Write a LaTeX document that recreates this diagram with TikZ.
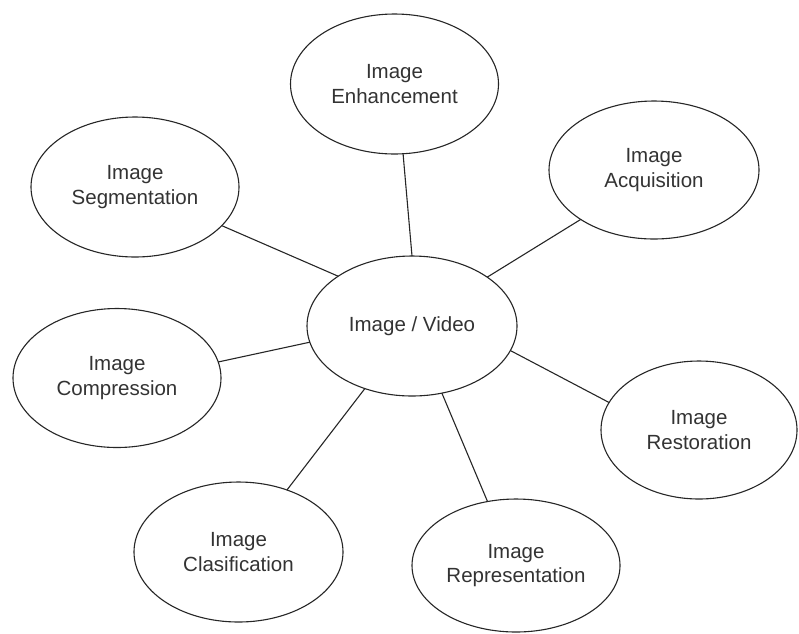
\documentclass[tikz,border=0pt]{standalone}
\usepackage{fontspec}
\setmainfont{Liberation Sans}
\usetikzlibrary{shapes.geometric}

\tikzset{
  topic/.style={ellipse, draw=black!85, line width=1.1pt, fill=white,
    minimum width=208pt, minimum height=140pt, inner sep=0pt, outer sep=0pt,
    align=center, text=black!80,
    font=\fontsize{20.5pt}{24.6pt}\selectfont},
  link/.style={draw=black!85, line width=1.1pt}
}

\begin{document}
\begin{tikzpicture}[x=1pt, y=-1pt]
  \useasboundingbox (0,0) rectangle (799,633);

  % hub and the surrounding topics
  \node[topic, minimum width=210pt] (hub) at (412,326) {Image / Video};
  \node[topic] (enh) at (394.5,84) {Image\\Enhancement};
  \node[topic, minimum width=210pt, minimum height=138pt] (acq) at (654,170) {Image\\Acquisition};
  \node[topic] (seg) at (135,187) {Image\\Segmentation};
  \node[topic, minimum height=139pt] (comp) at (117,378) {Image\\Compression};
  \node[topic, minimum width=209pt] (clas) at (238.5,552) {Image\\Clasification};
  \node[topic, minimum width=196pt, minimum height=138pt] (rest) at (699,430) {Image\\Restoration};
  \node[topic, minimum height=133pt] (rep) at (516,565.5) {Image\\Representation};

  % spokes
  \draw[link] (hub.90)    -- (enh.-83.9);
  \draw[link] (hub.33.2)  -- (acq.-146.7);
  \draw[link] (hub.146.8) -- (seg.-24.2);
  \draw[link] (hub.189.3) -- (comp.9.9);
  \draw[link] (hub.-127.9) -- (clas.52.4);
  \draw[link] (hub.-14.9) -- (rest.163.3);
  \draw[link] (hub.-66.9) -- (rep.114.5);
\end{tikzpicture}
\end{document}
